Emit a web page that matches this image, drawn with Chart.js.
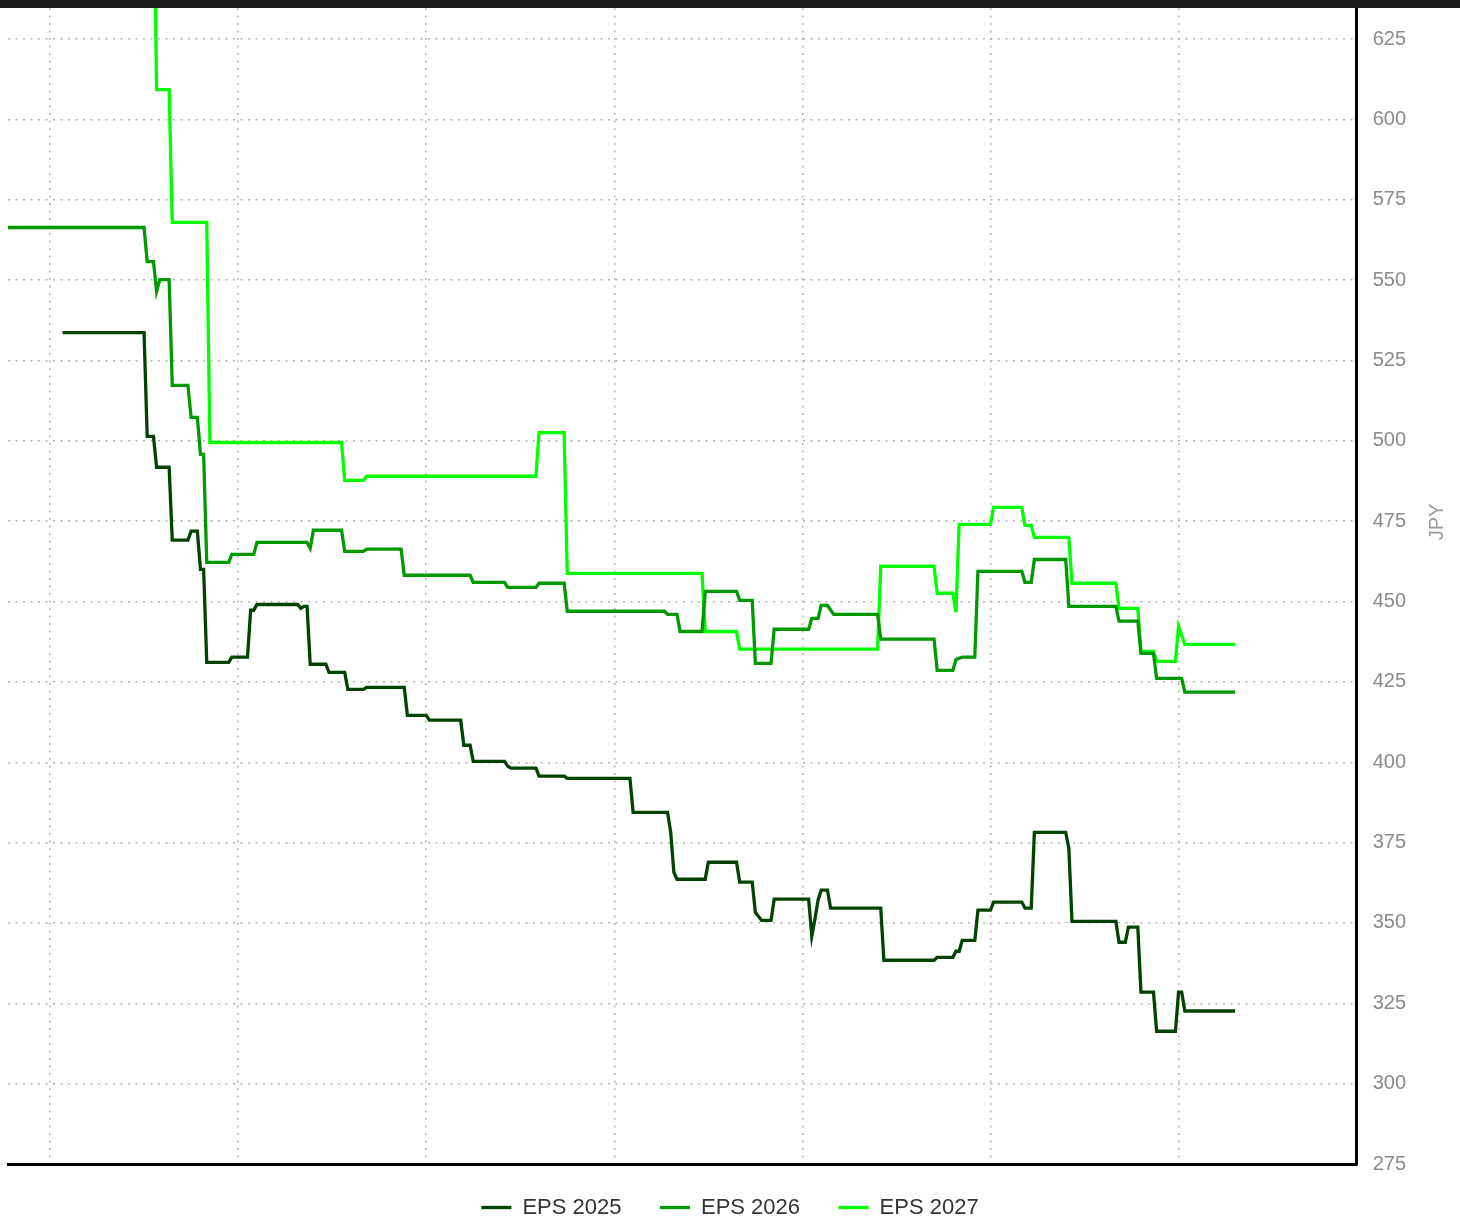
<!DOCTYPE html>
<html>
<head>
<meta charset="utf-8">
<title>EPS estimates</title>
<script src="https://cdn.jsdelivr.net/npm/chart.js@4.4.1/dist/chart.umd.min.js"></script>
<style>
  html, body { margin: 0; padding: 0; background: #fff; }
  #wrap { position: relative; width: 1460px; height: 1220px; }
  #topbar { position: absolute; left: 0; top: 0; width: 1460px; height: 8px; background: #1c1c1c; }
</style>
</head>
<body>
<div id="wrap">
  <canvas id="epsChart" width="1460" height="1220"></canvas>
  <div id="topbar"></div>
</div>
<script>
// --- DATOS (día = índice de fecha, las líneas de rejilla caen cada 60 días) ---
const seriesNames = ["EPS 2025", "EPS 2026", "EPS 2027"];
const seriesColors = ["#004400", "#009900", "#00ff00"];
const yTicks = [275, 300, 325, 350, 375, 400, 425, 450, 475, 500, 525, 550, 575, 600, 625];

const eps2025Days = [4,30,31,33,34,38,39,44,45,47,48,49,50,57,58,63,64,65,66,79,80,81,82,83,88,89,94,95,100,101,113,114,120,121,131,132,134,135,145,146,147,155,156,164,165,185,186,197,198,199,200,209,210,219,220,224,225,227,230,231,242,243,244,245,246,248,249,265,266,282,283,288,289,290,291,295,296,300,301,310,311,313,314,324,325,326,340,341,343,344,347,348,352,353,359,360,361,362,378];
const eps2025Vals = [533.7,533.7,501.4,501.4,491.8,491.8,469.1,469.1,471.9,471.9,460.0,460.0,431.1,431.1,432.7,432.7,447.3,447.3,449.1,449.1,447.9,448.5,448.5,430.5,430.5,428.0,428.0,422.7,422.7,423.3,423.3,414.6,414.6,413.1,413.1,405.3,405.3,400.3,400.3,398.8,398.2,398.2,395.7,395.7,395.0,395.0,384.4,384.4,378.2,365.8,363.6,363.6,368.9,368.9,362.7,362.7,353.3,350.8,350.8,357.4,357.4,345.9,351.2,357.1,360.2,360.2,354.6,354.6,338.4,338.4,339.3,339.3,341.2,341.2,344.6,344.6,354.0,354.0,356.5,356.5,354.6,354.6,378.2,378.2,373.3,350.5,350.5,344.0,344.0,348.7,348.7,328.5,328.5,316.3,316.3,328.5,328.5,322.6,322.6];

const eps2026Days = [-14,30,31,33,34,35,38,39,44,45,47,48,49,50,57,58,65,66,82,83,84,93,94,100,101,112,113,134,135,145,146,155,156,164,165,196,197,200,201,208,209,219,220,224,225,230,231,242,243,245,246,248,250,264,265,282,283,288,289,291,295,296,310,311,313,314,324,325,340,341,347,348,352,353,361,362,378];
const eps2026Vals = [566.4,566.4,555.8,555.8,546.5,550.2,550.2,517.3,517.3,507.3,507.3,495.8,495.8,462.2,462.2,464.7,464.7,468.4,468.4,466.6,472.2,472.2,465.6,465.6,466.3,466.3,458.2,458.2,456.0,456.0,454.4,454.4,455.7,455.7,447.0,447.0,446.0,446.0,440.7,440.7,453.2,453.2,450.4,450.4,430.8,430.8,441.4,441.4,444.8,444.8,448.8,448.8,446.0,446.0,438.3,438.3,428.6,428.6,432.0,432.7,432.7,459.4,459.4,456.0,456.0,463.1,463.1,448.5,448.5,443.9,443.9,433.9,433.9,426.1,426.1,421.8,421.8];

const eps2027Days = [33,34,38,39,50,51,93,94,100,101,155,156,164,165,208,209,219,220,264,265,282,283,288,289,290,300,301,310,311,313,314,325,326,340,341,347,348,352,353,359,360,362,378];
const eps2027Vals = [680,609.3,609.3,568.0,568.0,499.5,499.5,487.7,487.7,489.0,489.0,502.6,502.6,458.8,458.8,440.7,440.7,435.2,435.2,461.0,461.0,452.6,452.6,446.7,474.0,474.0,479.3,479.3,473.7,473.7,470.0,470.0,455.7,455.7,447.9,447.9,434.5,434.5,431.4,431.4,442.3,436.7,436.7];

const xMin = -13.4, xMax = 416.8, xStep = 60;
const yMin = 275, yMax = 634.7, yStep = 25;

const FONT = '"Liberation Sans", Arial, sans-serif';

function puntos(days, vals) {
  return days.map((d, i) => ({ x: d, y: vals[i] }));
}

const allDays = [eps2025Days, eps2026Days, eps2027Days];
const allVals = [eps2025Vals, eps2026Vals, eps2027Vals];

const datasets = seriesNames.map((name, i) => ({
  label: name,
  data: puntos(allDays[i], allVals[i]),
  borderColor: seriesColors[i],
  backgroundColor: seriesColors[i],
  borderWidth: 3.3,
  pointRadius: 0,
  pointHoverRadius: 0,
  tension: 0,
  pointStyle: 'line'
}));

// leyenda: más separación horizontal sin robar alto al gráfico, centrada en todo el lienzo
const legendRow = {
  id: 'legendRow',
  beforeLayout(chart) {
    const lg = chart.legend;
    if (!lg || lg._rowFit) return;
    const fit = lg.fit.bind(lg);
    lg.fit = () => { fit(); lg.height = 56; };
    lg._rowFit = true;
  },
  afterLayout(chart) {
    const lg = chart.legend;
    lg.top -= 6;
    lg.bottom -= 6;
    lg.left = 0;
    lg.right = chart.width;
  }
};

// título del eje (JPY)
const axisTitle = {
  id: 'axisTitle',
  afterDraw(chart) {
    const ctx = chart.ctx;
    ctx.save();
    ctx.translate(chart.width - 23, 522);
    ctx.rotate(-Math.PI / 2);
    ctx.font = '20px ' + FONT;
    ctx.fillStyle = '#999999';
    ctx.textAlign = 'center';
    ctx.textBaseline = 'middle';
    ctx.fillText('JPY', 0, 0);
    ctx.restore();
  }
};

new Chart(document.getElementById('epsChart'), {
  type: 'line',
  data: { datasets },
  plugins: [legendRow, axisTitle],
  options: {
    responsive: false,
    animation: false,
    layout: { padding: { left: 8, top: 8, right: 38, bottom: 0 } },
    plugins: {
      tooltip: { enabled: false },
      legend: {
        position: 'bottom',
        labels: {
          usePointStyle: true,
          pointStyleWidth: 30,
          padding: 38.5,
          color: '#333333',
          font: { family: FONT, size: 22 }
        }
      }
    },
    scales: {
      x: {
        type: 'linear',
        min: xMin,
        max: xMax,
        ticks: { display: false, stepSize: xStep, includeBounds: false },
        grid: { color: '#b4b4b4', lineWidth: 1.5, drawTicks: false },
        border: { display: true, color: '#000000', width: 3, dash: [2, 5.5] }
      },
      y: {
        position: 'right',
        min: yMin,
        max: yMax,
        afterBuildTicks: (s) => { s.ticks = yTicks.map(v => ({ value: v })); },
        afterFit: (s) => { s.paddingTop = 0; s.paddingBottom = 0; },
        ticks: {
          stepSize: yStep,
          includeBounds: false,
          padding: 16,
          color: '#8a8a8a',
          font: { family: FONT, size: 20 }
        },
        grid: { color: '#b4b4b4', lineWidth: 1.5, drawTicks: false },
        border: { display: true, color: '#000000', width: 3, dash: [2, 5.5] }
      }
    }
  }
});
</script>
</body>
</html>
